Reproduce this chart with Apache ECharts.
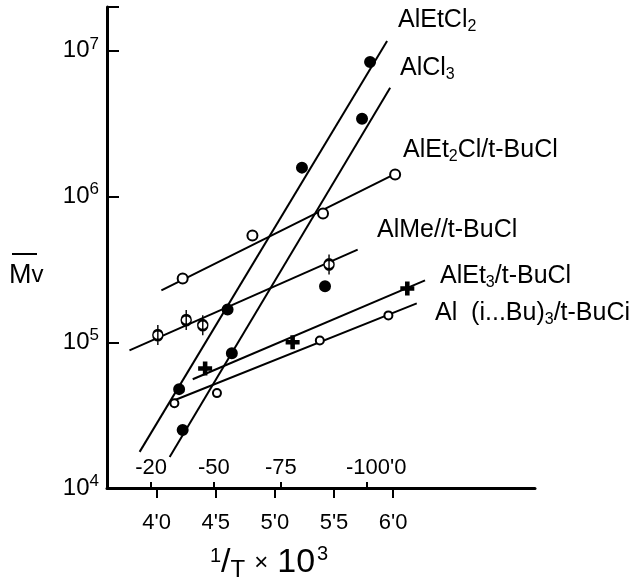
<!DOCTYPE html>
<html>
<head>
<meta charset="utf-8">
<script src="https://cdn.jsdelivr.net/npm/echarts@6/dist/echarts.min.js"></script>
<style>
  html, body { margin: 0; padding: 0; background: #fff; }
  #main { width: 640px; height: 586px; }
</style>
</head>
<body>
<div id="main"></div>
<script>
// x = 1/T x 10^3, y = Mv (log)
var xTicks = [4.0, 4.5, 5.0, 5.5, 6.0];
var tempTicks = [-20, -50, -75, -100];
var tempLabels = ['-20', '-50', '-75', '-100'];

var etcl2LineX = [3.856, 5.949];
var etcl2LineY = [1.77e4, 1.17e7];
var etcl2X = [4.19, 4.60, 5.229, 5.805];
var etcl2Y = [4.77e4, 1.68e5, 1.58e6, 8.4e6];

var alcl3LineX = [4.11, 5.975];
var alcl3LineY = [1.63e4, 5.58e6];
var alcl3X = [4.22, 4.636, 5.424, 5.737];
var alcl3Y = [2.5e4, 8.4e4, 2.42e5, 3.42e6];

var et2clLineX = [4.04, 6.03];
var et2clLineY = [2.27e5, 1.45e6];
var et2clX = [4.22, 4.81, 5.407, 6.017];
var et2clY = [2.74e5, 5.4e5, 7.66e5, 1.42e6];

var meLineX = [3.77, 5.70];
var meLineY = [8.8e4, 4.33e5];
var meX = [4.01, 4.25, 4.39, 5.458];
var meY = [1.12e5, 1.42e5, 1.31e5, 3.42e5];

var et3LineX = [4.305, 6.27];
var et3LineY = [5.58e4, 2.66e5];
var et3X = [4.41, 5.15, 6.12];
var et3Y = [6.6e4, 1.0e5, 2.34e5];

var ibuLineX = [4.15, 6.20];
var ibuLineY = [4.0e4, 1.85e5];
var ibuX = [4.15, 4.51, 5.38, 5.96];
var ibuY = [3.82e4, 4.48e4, 1.03e5, 1.53e5];

function pairs(xs, ys) {
    return xs.map(function (x, i) { return [x, ys[i]]; });
}

var tempPos = tempTicks.map(function (t) { return 1000 / (273 + t); });

var chart = echarts.init(document.getElementById('main'));

var FONT = 'Liberation Sans';

function lineSeries(xs, ys) {
    return {
        type: 'line',
        data: pairs(xs, ys),
        showSymbol: false,
        silent: true,
        lineStyle: { color: '#000', width: 2 },
        z: 2
    };
}

function pointSeries(xs, ys, symbol, size, fill) {
    return {
        type: 'scatter',
        data: pairs(xs, ys),
        symbol: symbol,
        symbolSize: size,
        itemStyle: { color: fill, borderColor: '#000', borderWidth: 2, opacity: 1 },
        z: 3
    };
}

var crossPath = 'path://M-1.5,-7 L1.5,-7 L1.5,-1.5 L7,-1.5 L7,1.5 L1.5,1.5 L1.5,7 L-1.5,7 L-1.5,1.5 L-7,1.5 L-7,-1.5 L-1.5,-1.5 Z';
var barCirclePath = 'path://M0,-10 L0,10 M-5,0 A5,5 0 1,0 5,0 A5,5 0 1,0 -5,0 Z';

function compLabel(text, left, top) {
    return {
        type: 'text',
        left: left,
        top: top,
        style: {
            text: text,
            font: '25px ' + FONT,
            fill: '#000',
            rich: {
                a: { fontSize: 25, fontFamily: FONT },
                s: { fontSize: 16, fontFamily: FONT, padding: [12, 0, 0, 0] }
            }
        }
    };
}

option = {
    animation: false,
    grid: { left: 107, right: 105, top: 7, bottom: 98 },
    xAxis: [
        {
            type: 'value',
            min: 3.58,
            max: 7.2,
            splitLine: { show: false },
            axisLine: { lineStyle: { color: '#000', width: 3 } },
            axisTick: {
                customValues: xTicks,
                length: 10,
                lineStyle: { color: '#000', width: 2 }
            },
            axisLabel: {
                customValues: xTicks,
                margin: 24,
                color: '#000',
                fontFamily: FONT,
                fontSize: 22,
                formatter: function (v) { return v.toFixed(1).replace('.', "'"); }
            }
        },
        {
            type: 'value',
            min: 3.58,
            max: 7.2,
            position: 'bottom',
            splitLine: { show: false },
            axisLine: { show: false },
            axisTick: {
                inside: true,
                customValues: tempPos,
                length: 6,
                lineStyle: { color: '#000', width: 2 }
            },
            axisLabel: {
                inside: true,
                customValues: tempPos,
                margin: 9,
                color: '#000',
                fontFamily: FONT,
                fontSize: 22,
                formatter: function (v) {
                    var i = 0;
                    tempPos.forEach(function (p, k) { if (Math.abs(p - v) < Math.abs(tempPos[i] - v)) i = k; });
                    if (i === tempLabels.length - 1) {
                        return '{p|}' + tempLabels[i] + "'0";
                    }
                    return tempLabels[i];
                },
                rich: { p: { width: 18 } }
            }
        }
    ],
    yAxis: {
        type: 'log',
        min: 1e4,
        max: 2e7,
        splitLine: { show: false },
        axisLine: { lineStyle: { color: '#000', width: 3 } },
        axisTick: { inside: true, length: 12, lineStyle: { color: '#000', width: 2 } },
        minorTick: { show: false },
        axisLabel: {
            margin: 8,
            color: '#000',
            formatter: function (v) {
                var e = Math.log10(v);
                if (Math.abs(e - Math.round(e)) > 1e-6) return '';
                return '{b|10}{s|' + Math.round(e) + '}';
            },
            rich: {
                b: { fontSize: 24, fontFamily: FONT, color: '#000' },
                s: { fontSize: 17, fontFamily: FONT, color: '#000', padding: [0, 0, 14, 0] }
            }
        }
    },
    series: [
        lineSeries(etcl2LineX, etcl2LineY),
        pointSeries(etcl2X, etcl2Y, 'circle', 10, '#000'),
        lineSeries(alcl3LineX, alcl3LineY),
        pointSeries(alcl3X, alcl3Y, 'circle', 10, '#000'),
        lineSeries(et2clLineX, et2clLineY),
        pointSeries(et2clX, et2clY, 'circle', 10, '#fff'),
        lineSeries(meLineX, meLineY),
        pointSeries(meX, meY, barCirclePath, [10, 20], '#fff'),
        lineSeries(et3LineX, et3LineY),
        pointSeries(et3X, et3Y, crossPath, 12, '#000'),
        lineSeries(ibuLineX, ibuLineY),
        pointSeries(ibuX, ibuY, 'circle', 8, '#fff')
    ],
    graphic: [
        compLabel('{a|AlEtCl}{s|2}', 398, 8),
        compLabel('{a|AlCl}{s|3}', 400, 56),
        compLabel('{a|AlEt}{s|2}{a|Cl/t-BuCl}', 403, 138),
        compLabel('{a|AlMe//t-BuCl}', 377, 218),
        compLabel('{a|AlEt}{s|3}{a|/t-BuCl}', 440, 264),
        compLabel('{a|Al  (i...Bu)}{s|3}{a|/t-BuCi}', 435, 301),
        {
            type: 'text',
            left: 9,
            top: 262,
            style: {
                text: '{m|M}{v|v}',
                rich: {
                    m: { fontSize: 27, fontFamily: FONT, fill: '#000' },
                    v: { fontSize: 24, fontFamily: FONT, fill: '#000' }
                }
            }
        },
        {
            type: 'line',
            shape: { x1: 12, y1: 254, x2: 37, y2: 254 },
            style: { stroke: '#000', lineWidth: 2 }
        },
        {
            type: 'text',
            left: 210,
            top: 544,
            style: {
                text: '{n|1}{sl|/}{t|T}{x|×}{d|10}{e|3}',
                rich: {
                    n: { fontSize: 20, fontFamily: FONT, fill: '#000', padding: [0, 0, 14, 0] },
                    sl: { fontSize: 34, fontFamily: FONT, fill: '#000' },
                    t: { fontSize: 24, fontFamily: FONT, fill: '#000', padding: [14, 0, 0, 0] },
                    x: { fontSize: 24, fontFamily: FONT, fill: '#000', padding: [0, 9, 0, 9] },
                    d: { fontSize: 34, fontFamily: FONT, fill: '#000' },
                    e: { fontSize: 20, fontFamily: FONT, fill: '#000', padding: [0, 0, 18, 2] }
                }
            }
        }
    ]
};

chart.setOption(option);
</script>
</body>
</html>
